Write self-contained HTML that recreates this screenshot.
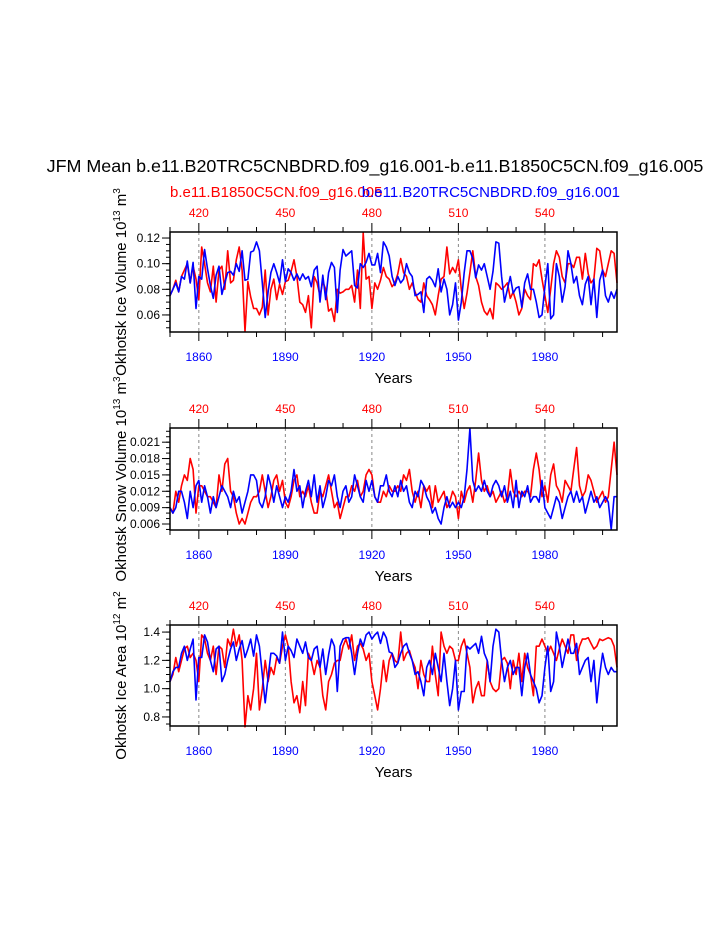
<!DOCTYPE html>
<html><head><meta charset="utf-8"><style>
html,body{margin:0;padding:0;background:#fff;}
svg{display:block;font-family:"Liberation Sans",sans-serif;}
</style></head><body>
<svg id="chart" width="723" height="935" viewBox="0 0 723 935" xmlns="http://www.w3.org/2000/svg">
<text x="375" y="172" font-size="17.9" text-anchor="middle">JFM Mean b.e11.B20TRC5CNBDRD.f09_g16.001-b.e11.B1850C5CN.f09_g16.005</text>
<text x="170" y="197" font-size="15" fill="#ff0000">b.e11.B1850C5CN.f09_g16.005</text>
<text x="620" y="197" font-size="15" fill="#0000ff" text-anchor="end">b.e11.B20TRC5CNBDRD.f09_g16.001</text>
</svg>
<script>
const years0 = 1850;
const volBlue = [0.075,0.080,0.085,0.078,0.090,0.088,0.102,0.085,0.101,0.065,
0.090,0.088,0.111,0.096,0.083,0.073,0.091,0.098,0.076,0.085,
0.093,0.094,0.091,0.100,0.094,0.110,0.087,0.088,0.109,0.110,
0.117,0.110,0.085,0.058,0.078,0.093,0.100,0.093,0.085,0.103,
0.086,0.096,0.093,0.087,0.092,0.087,0.092,0.088,0.090,0.082,
0.095,0.098,0.070,0.091,0.072,0.093,0.101,0.097,0.062,0.095,
0.111,0.106,0.108,0.110,0.083,0.081,0.100,0.097,0.101,0.108,
0.099,0.099,0.108,0.093,0.117,0.113,0.106,0.090,0.083,0.090,
0.085,0.088,0.100,0.093,0.090,0.075,0.076,0.078,0.062,0.088,
0.090,0.087,0.082,0.096,0.078,0.088,0.080,0.060,0.068,0.085,
0.056,0.070,0.093,0.110,0.110,0.104,0.089,0.099,0.095,0.100,
0.090,0.080,0.094,0.117,0.116,0.090,0.070,0.080,0.090,0.077,
0.081,0.082,0.066,0.085,0.092,0.080,0.080,0.070,0.058,0.060,
0.082,0.100,0.057,0.060,0.100,0.090,0.070,0.082,0.110,0.100,
0.085,0.090,0.075,0.068,0.084,0.090,0.068,0.088,0.058,0.087,
0.095,0.075,0.070,0.078,0.073,0.080];
const volRed = [0.075,0.080,0.087,0.078,0.090,0.095,0.100,0.085,0.098,0.088,
0.072,0.113,0.100,0.085,0.078,0.098,0.070,0.095,0.098,0.080,
0.110,0.085,0.087,0.103,0.113,0.095,0.047,0.086,0.074,0.065,
0.065,0.060,0.066,0.095,0.060,0.080,0.088,0.072,0.084,0.076,
0.086,0.087,0.094,0.103,0.090,0.070,0.068,0.062,0.075,0.050,
0.090,0.085,0.075,0.086,0.080,0.063,0.065,0.055,0.080,0.077,
0.078,0.080,0.080,0.083,0.070,0.095,0.065,0.124,0.088,0.090,
0.065,0.085,0.080,0.087,0.097,0.090,0.088,0.082,0.085,0.092,
0.104,0.093,0.090,0.080,0.085,0.078,0.072,0.070,0.085,0.075,
0.072,0.068,0.060,0.075,0.088,0.090,0.113,0.092,0.097,0.093,
0.103,0.080,0.065,0.077,0.093,0.110,0.090,0.083,0.070,0.063,
0.060,0.065,0.057,0.085,0.083,0.080,0.082,0.085,0.073,0.078,
0.070,0.060,0.065,0.080,0.075,0.072,0.100,0.098,0.103,0.088,
0.075,0.062,0.080,0.100,0.110,0.105,0.090,0.085,0.100,0.100,
0.097,0.105,0.105,0.088,0.108,0.092,0.085,0.088,0.112,0.110,
0.095,0.090,0.100,0.110,0.108,0.085];
const snowBlue = [0.009,0.008,0.009,0.012,0.012,0.010,0.007,0.012,0.009,0.013,
0.014,0.010,0.013,0.011,0.008,0.011,0.009,0.011,0.013,0.012,
0.011,0.009,0.012,0.010,0.011,0.008,0.010,0.012,0.015,0.015,
0.014,0.010,0.009,0.011,0.015,0.013,0.010,0.013,0.011,0.009,
0.011,0.010,0.012,0.016,0.012,0.013,0.009,0.012,0.014,0.011,
0.015,0.010,0.013,0.009,0.011,0.014,0.013,0.015,0.011,0.009,
0.012,0.013,0.010,0.011,0.015,0.013,0.011,0.010,0.014,0.012,
0.014,0.011,0.010,0.013,0.013,0.015,0.012,0.011,0.013,0.011,
0.014,0.012,0.013,0.010,0.009,0.012,0.011,0.014,0.013,0.011,
0.010,0.008,0.009,0.007,0.006,0.009,0.011,0.009,0.010,0.009,
0.010,0.009,0.011,0.016,0.0235,0.014,0.012,0.013,0.012,0.014,
0.012,0.011,0.013,0.014,0.013,0.011,0.013,0.010,0.012,0.009,
0.014,0.009,0.012,0.011,0.013,0.010,0.011,0.011,0.010,0.014,
0.009,0.008,0.007,0.009,0.011,0.010,0.007,0.009,0.011,0.012,
0.010,0.012,0.010,0.011,0.008,0.010,0.012,0.010,0.011,0.009,
0.010,0.011,0.010,0.005,0.011,0.011];
const snowRed = [0.009,0.008,0.012,0.010,0.013,0.015,0.014,0.018,0.016,0.008,
0.013,0.013,0.012,0.011,0.011,0.010,0.009,0.015,0.012,0.017,
0.018,0.012,0.011,0.008,0.006,0.007,0.006,0.008,0.010,0.011,
0.011,0.012,0.015,0.012,0.009,0.011,0.014,0.015,0.012,0.014,
0.010,0.009,0.011,0.014,0.015,0.011,0.012,0.011,0.013,0.010,
0.008,0.008,0.012,0.011,0.013,0.015,0.012,0.009,0.010,0.007,
0.009,0.011,0.011,0.013,0.012,0.014,0.011,0.012,0.015,0.016,
0.015,0.011,0.010,0.010,0.012,0.011,0.013,0.012,0.012,0.013,
0.012,0.015,0.014,0.016,0.012,0.010,0.012,0.009,0.013,0.012,
0.013,0.009,0.013,0.010,0.011,0.012,0.009,0.010,0.012,0.011,
0.007,0.012,0.010,0.012,0.013,0.010,0.014,0.019,0.014,0.012,
0.013,0.011,0.012,0.010,0.011,0.012,0.010,0.011,0.016,0.012,
0.011,0.012,0.011,0.012,0.012,0.011,0.016,0.019,0.016,0.011,
0.013,0.010,0.015,0.017,0.013,0.012,0.010,0.014,0.013,0.012,
0.016,0.020,0.013,0.011,0.012,0.015,0.014,0.012,0.010,0.011,
0.012,0.010,0.011,0.016,0.021,0.015];
const areaBlue = [1.05,1.12,1.15,1.15,1.25,1.30,1.20,1.28,1.35,0.92,
1.22,1.22,1.38,1.33,1.20,1.12,1.28,1.30,1.05,1.10,
1.20,1.28,1.33,1.20,1.28,1.34,1.22,1.28,1.35,1.23,
1.38,1.30,1.10,0.90,1.08,1.25,1.25,1.23,1.18,1.40,
1.20,1.30,1.27,1.22,1.35,1.30,1.25,1.33,1.22,1.20,
1.28,1.30,1.15,1.28,1.10,1.24,1.35,1.30,0.98,1.30,
1.35,1.36,1.36,1.25,1.10,1.25,1.35,1.30,1.38,1.40,
1.35,1.38,1.40,1.32,1.40,1.36,1.26,1.25,1.15,1.18,
1.25,1.30,1.32,1.25,1.20,1.10,1.12,1.05,0.95,1.15,
1.20,1.10,1.25,1.15,1.05,1.25,1.05,0.88,1.00,1.20,
0.85,0.98,0.98,1.30,1.28,1.30,1.32,1.25,1.37,1.25,
1.20,1.05,1.30,1.42,1.40,1.20,1.05,1.15,1.20,1.10,
1.15,1.15,0.95,1.15,1.25,1.10,1.05,1.00,0.90,0.95,
1.15,1.30,0.98,1.05,1.40,1.30,1.15,1.25,1.35,1.25,
1.25,1.32,1.10,1.15,1.20,1.22,1.05,1.20,0.90,1.10,
1.25,1.15,1.10,1.15,1.12,1.12];
const areaRed = [1.05,1.10,1.22,1.12,1.20,1.28,1.30,1.22,1.25,1.20,
1.05,1.38,1.35,1.25,1.20,1.30,1.10,1.30,1.28,1.15,
1.35,1.30,1.42,1.30,1.38,1.20,0.73,0.95,0.85,1.00,
1.25,0.85,1.00,1.20,1.05,1.15,1.10,1.22,1.18,1.30,
1.38,1.30,1.05,0.90,0.95,0.83,1.05,0.88,1.25,1.20,
1.10,1.20,1.15,0.95,0.85,1.05,1.10,1.18,1.20,1.20,
1.30,1.35,1.28,1.38,1.20,1.30,1.32,1.28,1.20,1.25,
1.05,0.95,0.85,1.00,1.20,1.05,1.20,1.25,1.20,1.18,
1.40,1.20,1.25,1.27,1.20,1.15,1.00,1.20,1.10,1.05,
1.05,1.30,1.10,0.95,1.40,1.30,1.25,1.30,1.28,1.20,
1.20,1.30,1.35,1.25,1.15,0.90,1.00,1.05,0.95,0.95,
1.20,1.05,1.00,0.98,1.00,1.20,1.22,1.18,1.00,1.20,
1.10,1.25,1.05,1.25,1.15,1.10,0.95,1.30,1.30,1.35,
1.30,1.25,1.30,1.25,1.20,1.28,1.35,1.30,1.25,1.38,
1.38,1.20,1.30,1.35,1.35,1.36,1.32,1.28,1.30,1.35,
1.34,1.35,1.36,1.35,1.30,1.15];
const bottomTicks = [1860,1890,1920,1950,1980];
const topTicks = [420,450,480,510,540];
const volTicks = [0.06,0.08,0.10,0.12];
const volTickLabels = ["0.06","0.08","0.10","0.12"];
const snowTicks = [0.006,0.009,0.012,0.015,0.018,0.021];
const snowTickLabels = ["0.006","0.009","0.012","0.015","0.018","0.021"];
const areaTicks = [0.8,1.0,1.2,1.4];
const areaTickLabels = ["0.8","1.0","1.2","1.4"];

const NS="http://www.w3.org/2000/svg";
const svg=document.getElementById('chart');
function mk(tag,attrs,parent){const e=document.createElementNS(NS,tag);for(const k in attrs)e.setAttribute(k,attrs[k]);(parent||svg).appendChild(e);return e;}
const X0=170,X1=617,YR0=1850,YR1=2005;
function xs(yr){return X0+(yr-YR0)/(YR1-YR0)*(X1-X0);}

function panel(p){
  const g=mk('g',{});
  
  
  const ys=v=>p.y1-(v-p.vmin)/(p.vmax-p.vmin)*(p.y1-p.y0);
  bottomTicks.forEach(t=>{const l=mk('line',{x1:xs(t),x2:xs(t),y1:p.y0,y2:p.y1,stroke:'#888','stroke-width':1,'stroke-dasharray':'3,3'},g);
    });
  [[p.red,'#ff0000','red-series'],[p.blue,'#0000ff','blue-series']].forEach(([arr,c,n])=>{
    const pts=arr.map((v,i)=>xs(YR0+i).toFixed(1)+','+ys(v).toFixed(1)).join(' ');
    const pl=mk('polyline',{points:pts,fill:'none',stroke:c,'stroke-width':1.6,'stroke-linejoin':'round'},g);
    
  });
  const fr=mk('rect',{x:X0,y:p.y0,width:X1-X0,height:p.y1-p.y0,fill:'none',stroke:'#000','stroke-width':1.5},g);
  
  for(let yr=1850;yr<=2000;yr+=10){const maj=bottomTicks.includes(yr);
    mk('line',{x1:xs(yr),x2:xs(yr),y1:p.y1,y2:p.y1+(maj?9:5),stroke:'#000','stroke-width':1},g);}
  bottomTicks.forEach(t=>{const tx=mk('text',{x:xs(t),y:p.y1+29,'font-size':12,'text-anchor':'middle',fill:'#0000ff'},g);tx.textContent=t;
    });
  for(let m=410;m<=560;m+=10){const maj=topTicks.includes(m);
    mk('line',{x1:xs(m+1440),x2:xs(m+1440),y1:p.y0,y2:p.y0-(maj?9:5),stroke:'#000','stroke-width':1},g);}
  topTicks.forEach(t=>{const tx=mk('text',{x:xs(t+1440),y:p.y0-15,'font-size':12,'text-anchor':'middle',fill:'#ff0000'},g);tx.textContent=t;
    });
  for(let v=p.minorStart;v<=p.vmax+1e-9;v+=p.minor){if(v<p.vmin)continue;
    mk('line',{x1:X0,x2:X0-4,y1:ys(v),y2:ys(v),stroke:'#000'},g);}
  p.ticks.forEach((t,i)=>{mk('line',{x1:X0,x2:X0-8,y1:ys(t),y2:ys(t),stroke:'#000'},g);
    const tx=mk('text',{x:X0-10,y:ys(t)+4,'font-size':12,'text-anchor':'end'},g);tx.textContent=p.labels[i];
    });
  const tx0=X0-44, ty0=(p.y0+p.y1)/2;
  const yt=mk('text',{x:tx0,y:ty0,'font-size':15,'text-anchor':'middle',transform:`rotate(-90 ${tx0} ${ty0})`},g);
  yt.innerHTML=p.title;
  
  const xt=mk('text',{x:(X0+X1)/2,y:p.y1+51,'font-size':15,'text-anchor':'middle'},g);xt.textContent='Years';
  
}
panel({name:'ice-volume-panel',y0:232,y1:332,vmin:0.0467,vmax:0.1247,blue:volBlue,red:volRed,ticks:volTicks,labels:volTickLabels,minor:0.005,minorStart:0.05,
  title:'Okhotsk Ice Volume 10<tspan dy="-6" font-size="10">13</tspan><tspan dy="6"> m</tspan><tspan dy="-6" font-size="10">3</tspan>'});
panel({name:'snow-volume-panel',y0:428,y1:530,vmin:0.0049,vmax:0.0236,blue:snowBlue,red:snowRed,ticks:snowTicks,labels:snowTickLabels,minor:0.001,minorStart:0.005,
  title:'Okhotsk Snow Volume 10<tspan dy="-6" font-size="10">13</tspan><tspan dy="6"> m</tspan><tspan dy="-6" font-size="10">3</tspan>'});
panel({name:'ice-area-panel',y0:625,y1:726,vmin:0.736,vmax:1.45,blue:areaBlue,red:areaRed,ticks:areaTicks,labels:areaTickLabels,minor:0.05,minorStart:0.75,
  title:'Okhotsk Ice Area 10<tspan dy="-6" font-size="10">12</tspan><tspan dy="6"> m</tspan><tspan dy="-6" font-size="10">2</tspan>'});
</script>
</body></html>
